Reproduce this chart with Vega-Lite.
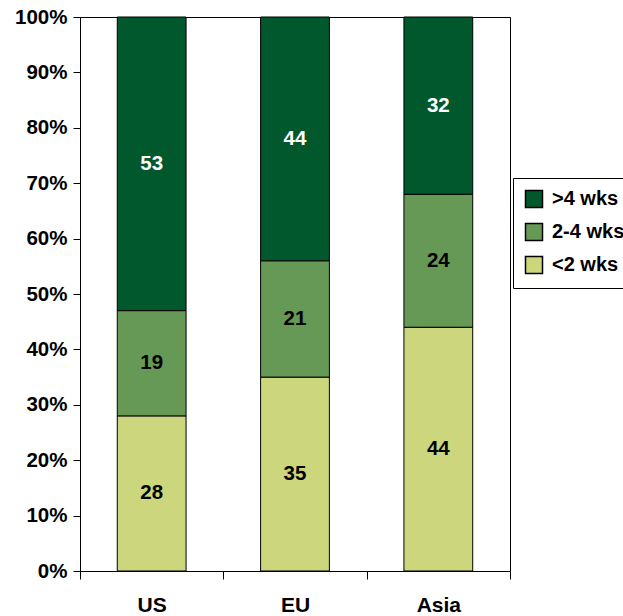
{
  "$schema": "https://vega.github.io/schema/vega-lite/v6.json",
  "width": 430,
  "height": 554,
  "autosize": {"type": "none"},
  "padding": {"left": 80, "top": 17, "right": 113, "bottom": 45},
  "background": "white",
  "config": {
    "font": "Liberation Sans",
    "view": {"stroke": "black", "strokeWidth": 1}
  },
  "data": {
    "values": [
      {"region": "US", "group": "<2 wks", "rank": 1, "pct": 28},
      {"region": "US", "group": "2-4 wks", "rank": 2, "pct": 19},
      {"region": "US", "group": ">4 wks", "rank": 3, "pct": 53},
      {"region": "EU", "group": "<2 wks", "rank": 1, "pct": 35},
      {"region": "EU", "group": "2-4 wks", "rank": 2, "pct": 21},
      {"region": "EU", "group": ">4 wks", "rank": 3, "pct": 44},
      {"region": "Asia", "group": "<2 wks", "rank": 1, "pct": 44},
      {"region": "Asia", "group": "2-4 wks", "rank": 2, "pct": 24},
      {"region": "Asia", "group": ">4 wks", "rank": 3, "pct": 32}
    ]
  },
  "transform": [
    {"stack": "pct", "groupby": ["region"], "sort": [{"field": "rank", "order": "ascending"}], "offset": "normalize", "as": ["y0", "y1"]},
    {"calculate": "(datum.y0 + datum.y1) / 2", "as": "ymid"}
  ],
  "encoding": {
    "x": {
      "field": "region",
      "type": "nominal",
      "sort": ["US", "EU", "Asia"],
      "scale": {"paddingInner": 0, "paddingOuter": 0},
      "axis": {
        "title": null,
        "labelAngle": 0,
        "labelFontSize": 21,
        "labelFontWeight": "bold",
        "labelColor": "black",
        "labelPadding": 15,
        "tickSize": 8,
        "tickBand": "extent",
        "tickColor": "black",
        "domainColor": "black"
      }
    }
  },
  "layer": [
    {
      "mark": {"type": "bar", "stroke": "black", "strokeWidth": 1, "width": {"band": 0.48}},
      "encoding": {
        "y": {
          "field": "y0",
          "type": "quantitative",
          "scale": {"domain": [0, 1], "nice": false},
          "axis": {
            "title": null,
            "format": ".0%",
            "values": [0, 0.1, 0.2, 0.3, 0.4, 0.5, 0.6, 0.7, 0.8, 0.9, 1],
            "grid": false,
            "labelFontSize": 20.5,
            "labelFontWeight": "bold",
            "labelColor": "black",
            "labelPadding": 6,
            "tickSize": 7,
            "tickColor": "black",
            "domainColor": "black"
          }
        },
        "y2": {"field": "y1"},
        "color": {
          "field": "group",
          "type": "nominal",
          "scale": {"domain": [">4 wks", "2-4 wks", "<2 wks"], "range": ["#00582C", "#669955", "#CCD67C"]},
          "legend": {
            "title": null,
            "orient": "none",
            "legendX": 433,
            "legendY": 161,
            "symbolType": "square",
            "symbolSize": 289,
            "symbolStrokeColor": "black",
            "symbolStrokeWidth": 1.5,
            "symbolOpacity": 1,
            "labelFontSize": 20,
            "labelFontWeight": "bold",
            "labelColor": "black",
            "labelOffset": 8,
            "strokeColor": "black",
            "padding": 11,
            "rowPadding": 9
          }
        }
      }
    },
    {
      "mark": {"type": "text", "fontWeight": "bold", "fontSize": 20.5, "baseline": "middle"},
      "encoding": {
        "y": {"field": "ymid", "type": "quantitative"},
        "text": {"field": "pct", "type": "quantitative"},
        "color": {"condition": {"test": "datum.rank == 3", "value": "white"}, "value": "black"}
      }
    }
  ]
}
